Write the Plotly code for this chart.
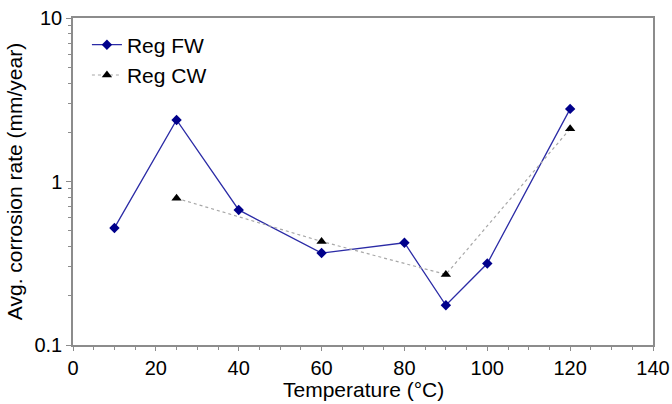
import plotly.graph_objects as go

# Average corrosion rate versus temperature for two regimes
temp_fw = [10, 25, 40, 60, 80, 90, 100, 120]
rate_fw = [0.52, 2.38, 0.67, 0.365, 0.422, 0.175, 0.315, 2.78]

temp_cw = [25, 60, 90, 120]
rate_cw = [0.79, 0.43, 0.27, 2.1]

x_ticks = [0, 20, 40, 60, 80, 100, 120, 140]
y_ticks = [0.1, 1, 10]
y_tick_text = ["0.1", "1", "10"]
y_minor = [m * d for d in (0.1, 1) for m in range(2, 10)]

FONT = "Liberation Sans, Arial, sans-serif"
FRAME = "#8c8c8c"

fig = go.Figure()
fig.add_trace(go.Scatter(
    x=temp_fw, y=rate_fw, name="Reg FW", mode="lines+markers",
    line=dict(color="#2b2ba6", width=1.3),
    marker=dict(symbol="diamond", size=8, color="#00008b"),
))
fig.add_trace(go.Scatter(
    x=temp_cw, y=rate_cw, name="Reg CW", mode="lines+markers",
    line=dict(color="#a8a8a8", width=1.2, dash="dot"),
    marker=dict(symbol="triangle-up", size=9, color="#000000"),
))

fig.update_layout(
    width=672, height=404,
    margin=dict(l=73, r=19, t=18, b=59),
    paper_bgcolor="white", plot_bgcolor="white",
    font=dict(family=FONT, size=20, color="#000000"),
    showlegend=True,
    legend=dict(
        x=0.024, y=0.98, xanchor="left", yanchor="top",
        bgcolor="rgba(0,0,0,0)", font=dict(size=21),
        tracegroupgap=2, itemwidth=30,
    ),
)

# x-axis title placed as paper-anchored text just under the tick labels
fig.add_annotation(
    text="Temperature (°C)", xref="paper", yref="paper",
    x=0.5, y=-0.137, xanchor="center", yanchor="middle",
    showarrow=False, font=dict(size=21),
)

fig.update_xaxes(
    range=[0, 140], tickvals=x_ticks, automargin=False,
    ticks="outside", ticklen=4, tickcolor=FRAME, tickwidth=1,
    showline=True, linecolor=FRAME, linewidth=1.5, mirror=True,
    showgrid=False, zeroline=False,
    minor=dict(dtick=5, ticks="outside", ticklen=3, tickcolor=FRAME, showgrid=False),
    tickfont=dict(size=20),
)
fig.update_yaxes(
    type="log", range=[-1, 1], tickvals=y_ticks, ticktext=y_tick_text,
    automargin=False,
    ticks="outside", ticklen=5, tickcolor=FRAME, tickwidth=1,
    showline=True, linecolor=FRAME, linewidth=1.5, mirror=True,
    showgrid=False, zeroline=False,
    minor=dict(tickmode="array", tickvals=y_minor, ticks="outside", ticklen=3,
               tickcolor=FRAME, showgrid=False),
    title=dict(text="Avg. corrosion rate (mm/year)", font=dict(size=21), standoff=6),
    tickfont=dict(size=20),
)

fig.write_html("out.html")
